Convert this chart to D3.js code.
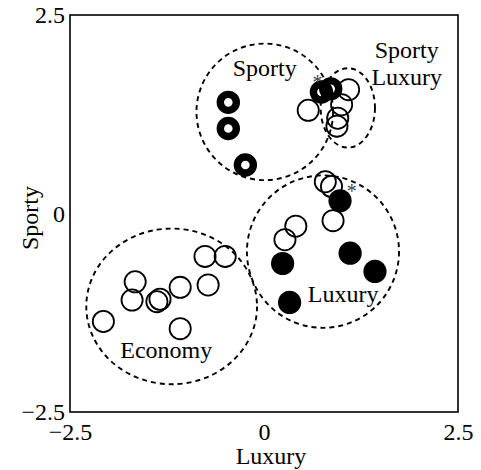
<!DOCTYPE html>
<html>
<head>
<meta charset="utf-8">
<script src="https://cdn.jsdelivr.net/npm/d3@7"></script>
<style>
    body { margin: 0; background: #fff; }
    text { font-family: "Liberation Serif", "Times New Roman", serif; }
</style>
</head>
<body>
<div id="chart"></div>
<script>

// tick values for both axes
let xTicks = [-2.5, 0, 2.5];
let yTicks = [-2.5, 0, 2.5];
let xTitle = "Luxury";
let yTitle = "Sporty";

// open circles [luxury, sporty]
let openCars = [
    [1.09, 1.56], [0.57, 1.30], [1.00, 1.37], [0.95, 1.20], [0.94, 1.10],
    [0.79, 0.40], [0.87, 0.34], [0.89, -0.09], [0.41, -0.16], [0.27, -0.33],
    [-0.76, -0.54], [-0.50, -0.54], [-1.66, -0.86], [-1.70, -1.09], [-1.38, -1.11],
    [-1.34, -1.08], [-1.08, -0.93], [-0.72, -0.90], [-2.07, -1.36], [-1.08, -1.45]
];

// thick rings (sporty cars)
let ringCars = [
    [-0.46, 1.40], [-0.46, 1.07], [-0.24, 0.61], [0.86, 1.57], [0.74, 1.53]
];

// filled dots (luxury cars)
let filledCars = [
    [0.98, 0.16], [0.24, -0.63], [1.11, -0.50], [1.43, -0.73], [0.33, -1.12]
];

// asterisk marks
let starMarks = [[0.69, 1.70], [1.13, 0.32]];

// dashed regions: [cx, cy, rx, ry]
let regions = [
    [0.01, 1.28, 0.88, 0.86],
    [1.08, 1.33, 0.35, 0.50],
    [0.76, -0.48, 0.98, 0.96],
    [-1.19, -1.17, 1.10, 0.98]
];

// region names: [text lines, x, y of first baseline]
let regionNames = [
    [["Sporty"], 0.01, 1.73],
    [["Sporty", "Luxury"], 1.84, 1.96],
    [["Luxury"], 1.02, -1.11],
    [["Economy"], -1.26, -1.82]
];

let width = 481,
    height = 470;
let margin = {top: 15, right: 23, bottom: 58, left: 70};
let w = width - margin.left - margin.right,
    h = height - margin.top - margin.bottom;

let x = d3.scaleLinear().domain([-2.5, 2.5]).range([0, w]);
let y = d3.scaleLinear().domain([-2.5, 2.5]).range([h, 0]);

let svg = d3.select("#chart").append("svg")
    .attr("width", width)
    .attr("height", height);

let g = svg.append("g")
    .attr("transform", "translate(" + margin.left + "," + margin.top + ")");

// dashed regions
g.selectAll("ellipse.region")
    .data(regions)
    .enter()
    .append("ellipse")
    .attr("class", "region")
    .attr("cx", d => x(d[0]))
    .attr("cy", d => y(d[1]))
    .attr("rx", d => x(d[0] + d[2]) - x(d[0]))
    .attr("ry", d => y(d[1] - d[3]) - y(d[1]))
    .attr("fill", "none")
    .attr("stroke", "#000")
    .attr("stroke-width", 1.9)
    .attr("stroke-dasharray", "5,4");

g.selectAll("circle.open")
    .data(openCars)
    .enter()
    .append("circle")
    .attr("class", "open")
    .attr("cx", d => x(d[0]))
    .attr("cy", d => y(d[1]))
    .attr("r", 10.6)
    .attr("fill", "none")
    .attr("stroke", "#000")
    .attr("stroke-width", 1.8);

g.selectAll("circle.ring")
    .data(ringCars)
    .enter()
    .append("circle")
    .attr("class", "ring")
    .attr("cx", d => x(d[0]))
    .attr("cy", d => y(d[1]))
    .attr("r", 8)
    .attr("fill", "none")
    .attr("stroke", "#000")
    .attr("stroke-width", 7.4);

g.selectAll("circle.filled")
    .data(filledCars)
    .enter()
    .append("circle")
    .attr("class", "filled")
    .attr("cx", d => x(d[0]))
    .attr("cy", d => y(d[1]))
    .attr("r", 11.6)
    .attr("fill", "#000");

g.selectAll("text.star")
    .data(starMarks)
    .enter()
    .append("text")
    .attr("class", "star")
    .attr("x", d => x(d[0]))
    .attr("y", d => y(d[1]) + 10)
    .attr("text-anchor", "middle")
    .attr("font-size", 20)
    .attr("fill", "#444")
    .text("*");

// region names
let names = g.selectAll("text.name")
    .data(regionNames)
    .enter()
    .append("text")
    .attr("class", "name")
    .attr("x", d => x(d[1]))
    .attr("y", d => y(d[2]))
    .attr("text-anchor", "middle")
    .attr("font-size", 24);

names.selectAll("tspan")
    .data(d => d[0].map(t => [t, x(d[1])]))
    .enter()
    .append("tspan")
    .attr("x", d => d[1])
    .attr("dy", (d, i) => i == 0 ? 0 : 27)
    .text(d => d[0]);

// frame
g.append("rect")
    .attr("width", w)
    .attr("height", h)
    .attr("fill", "none")
    .attr("stroke", "#000")
    .attr("stroke-width", 1.6);

let format = d3.format("");

let xAxis = g.append("g")
    .attr("transform", "translate(0," + h + ")")
    .call(d3.axisBottom(x).tickValues(xTicks).tickSize(0).tickPadding(11).tickFormat(format));
xAxis.select(".domain").remove();
xAxis.selectAll("text").attr("font-size", 24).attr("fill", "#000")
    .attr("font-family", "Liberation Serif");

let yAxis = g.append("g")
    .call(d3.axisLeft(y).tickValues(yTicks).tickSize(0).tickPadding(5).tickFormat(format));
yAxis.select(".domain").remove();
yAxis.selectAll("text").attr("font-size", 24).attr("fill", "#000")
    .attr("font-family", "Liberation Serif");

svg.append("text")
    .attr("x", 271)
    .attr("y", 464)
    .attr("text-anchor", "middle")
    .attr("font-size", 24)
    .text(xTitle);

svg.append("text")
    .attr("transform", "translate(38,218) rotate(-90)")
    .attr("text-anchor", "middle")
    .attr("font-size", 24)
    .text(yTitle);

</script>
</body>
</html>
